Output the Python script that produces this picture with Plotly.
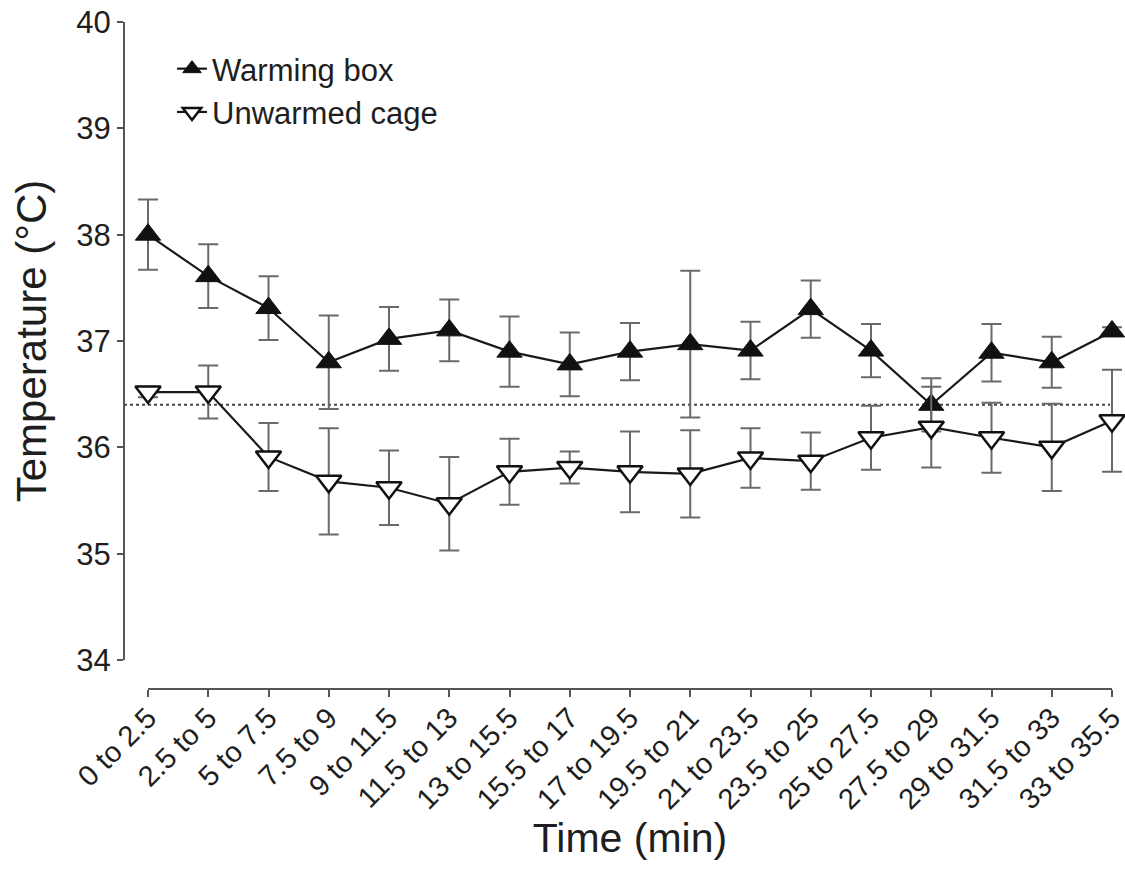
import plotly.graph_objects as go

# ---- data ----
time_bins = ["0 to 2.5", "2.5 to 5", "5 to 7.5", "7.5 to 9", "9 to 11.5", "11.5 to 13",
             "13 to 15.5", "15.5 to 17", "17 to 19.5", "19.5 to 21", "21 to 23.5",
             "23.5 to 25", "25 to 27.5", "27.5 to 29", "29 to 31.5", "31.5 to 33",
             "33 to 35.5"]

warming_mean = [38.00, 37.61, 37.31, 36.80, 37.02, 37.10, 36.90, 36.78, 36.90, 36.97,
                36.91, 37.30, 36.91, 36.40, 36.89, 36.80, 37.09]
warming_err = [0.33, 0.30, 0.30, 0.44, 0.30, 0.29, 0.33, 0.30, 0.27, 0.69,
               0.27, 0.27, 0.25, 0.25, 0.27, 0.24, 0.04]

unwarmed_mean = [36.52, 36.52, 35.91, 35.68, 35.62, 35.47, 35.77, 35.81, 35.77, 35.75,
                 35.90, 35.87, 36.09, 36.19, 36.09, 36.00, 36.25]
unwarmed_err = [0.05, 0.25, 0.32, 0.50, 0.35, 0.44, 0.31, 0.15, 0.38, 0.41,
                0.28, 0.27, 0.30, 0.38, 0.33, 0.41, 0.48]

baseline_temp = 36.4
y_ticks = [34, 35, 36, 37, 38, 39, 40]

FONT = "Liberation Sans, Arial, Helvetica, sans-serif"
TXT = "#1e1e1e"
AX = "#555555"

# ---- layout geometry (pixels) ----
W, H = 1125, 869
ML, MR, MT, MB = 124, 1, 22, 180
pw = W - ML - MR
ph = H - MT - MB
X_FIRST, X_LAST = 148, 1112          # pixel of first / last category
step = (X_LAST - X_FIRST) / (len(time_bins) - 1)
pad = 0.19                             # category units of room for error caps
x_left_px = X_FIRST - pad * step
x_right_px = min(X_LAST + pad * step, W - MR)
pad_right = (x_right_px - X_LAST) / step
Y_BOTTOM_PX = 660                      # pixel of y = 34
X_AXIS_PX = 689                        # pixel of the detached x axis line


def frac(v):
    return max(0.0, min(1.0, v))


fig = go.Figure()

common_err = dict(type="data", visible=True, color="#6a6a6a", thickness=2, width=10)

fig.add_trace(go.Scatter(
    x=time_bins, y=warming_mean, name="Warming box", mode="lines+markers",
    line=dict(color="#1a1a1a", width=2.2),
    marker=dict(symbol="triangle-up", size=22, color="#111111",
                line=dict(color="#111111", width=1)),
    error_y=dict(array=warming_err, **common_err),
    cliponaxis=False,
))

fig.add_trace(go.Scatter(
    x=time_bins, y=unwarmed_mean, name="Unwarmed cage", mode="lines+markers",
    line=dict(color="#1a1a1a", width=2.2),
    marker=dict(symbol="triangle-down", size=22, color="white",
                line=dict(color="#111111", width=2.5)),
    error_y=dict(array=unwarmed_err, **common_err),
    cliponaxis=False,
))

# invisible carrier trace so the detached x axis (line + ticks) is drawn
fig.add_trace(go.Scatter(
    x=time_bins, y=warming_mean, xaxis="x2", yaxis="y", mode="markers",
    marker=dict(opacity=0), hoverinfo="skip", showlegend=False,
))

fig.add_shape(type="line", xref="paper", yref="y", x0=0, x1=frac((X_LAST - 2 - ML) / pw),
              y0=baseline_temp, y1=baseline_temp,
              line=dict(color="#444444", width=2, dash="dot"), layer="below")

fig.update_layout(
    width=W, height=H,
    margin=dict(l=ML, r=MR, t=MT, b=MB, autoexpand=False),
    plot_bgcolor="rgba(0,0,0,0)", paper_bgcolor="white",
    font=dict(family=FONT, color=TXT),
    showlegend=True,
    legend=dict(x=(172 - ML) / pw, y=(X_AXIS_PX - 42) / ph, xanchor="left", yanchor="top",
                font=dict(size=31, family=FONT, color=TXT),
                bgcolor="rgba(0,0,0,0)", itemwidth=30, tracegroupgap=0),
    xaxis=dict(
        type="category", categoryorder="array", categoryarray=time_bins,
        range=[-pad, len(time_bins) - 1 + pad_right],
        domain=[frac((x_left_px - ML) / pw), frac((x_right_px - ML) / pw)],
        anchor="free", position=0,
        showline=False, ticks="", ticklabelstandoff=5,
        tickangle=-45, tickfont=dict(size=29, family=FONT, color=TXT),
        showgrid=False, zeroline=False, automargin=False,
        title=dict(text="Time (min)", font=dict(size=41, family=FONT, color=TXT),
                   standoff=8),
    ),
    xaxis2=dict(
        type="category", categoryorder="array", categoryarray=time_bins,
        range=[0, len(time_bins) - 1],
        domain=[frac((X_FIRST - ML) / pw), frac((X_LAST - ML) / pw)],
        anchor="free", position=0,
        showline=True, linecolor=AX, linewidth=2,
        ticks="outside", ticklen=7, tickwidth=2, tickcolor=AX,
        showticklabels=False, showgrid=False, zeroline=False, automargin=False,
    ),
    yaxis=dict(
        range=[34, 40], tickvals=y_ticks,
        domain=[frac((X_AXIS_PX - Y_BOTTOM_PX) / ph), 1], anchor="free", position=0,
        showline=True, linecolor=AX, linewidth=2,
        ticks="outside", ticklen=6, tickwidth=2, tickcolor=AX,
        ticklabelstandoff=0,
        tickfont=dict(size=31, family=FONT, color=TXT),
        showgrid=False, zeroline=False, automargin=False,
        title=dict(text="Temperature (°C)", font=dict(size=42, family=FONT, color=TXT),
                   standoff=16),
    ),
)

fig.write_html("out.html")
